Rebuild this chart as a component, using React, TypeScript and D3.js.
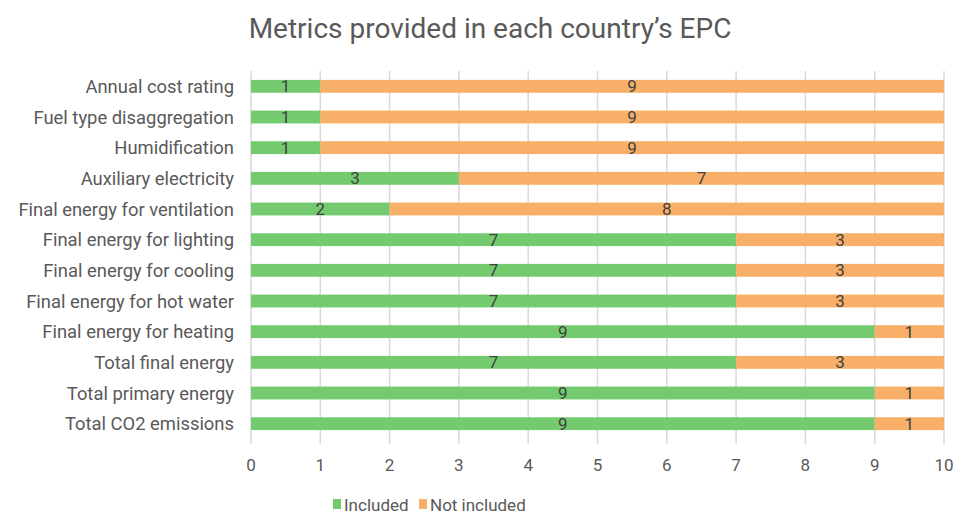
import { useMemo } from 'react';
import * as d3 from 'd3';

// Metrics provided in each country's EPC — stacked horizontal bars, top to bottom
const CATEGORIES = [
  'Annual cost rating',
  'Fuel type disaggregation',
  'Humidification',
  'Auxiliary electricity',
  'Final energy for ventilation',
  'Final energy for lighting',
  'Final energy for cooling',
  'Final energy for hot water',
  'Final energy for heating',
  'Total final energy',
  'Total primary energy',
  'Total CO2 emissions',
];
const INCLUDED     = [1, 1, 1, 3, 2, 7, 7, 7, 9, 7, 9, 9];
const NOT_INCLUDED = [9, 9, 9, 7, 8, 3, 3, 3, 1, 3, 1, 1];
const X_TICKS      = [0, 1, 2, 3, 4, 5, 6, 7, 8, 9, 10];
const SERIES       = ['Included', 'Not included'];

const W = 977;
const H = 527;
const MARGIN = { top: 71, right: 33, bottom: 88, left: 251 };

const GREEN  = '#74cb6f';
const ORANGE = '#f8b069';
const TEXT   = '#595959';
const DARK   = '#404040';
const GRID   = '#d9d9d9';
const FONT   = "'Roboto', 'Noto Sans', sans-serif";

export default function App() {
  const x = useMemo(
    () => d3.scaleLinear().domain([0, 10]).range([MARGIN.left, W - MARGIN.right]),
    [],
  );
  const y = useMemo(
    () => d3.scaleBand<string>().domain(CATEGORIES).range([MARGIN.top, H - MARGIN.bottom]).paddingInner(0.58).paddingOuter(0.29),
    [],
  );

  const rows = CATEGORIES.map((c, i) => ({ c, a: INCLUDED[i], b: NOT_INCLUDED[i] }));
  const bh = y.bandwidth();
  const plotBottom = H - MARGIN.bottom;

  return (
    <svg width={W} height={H} style={{ position: 'absolute', left: 0, top: 0, background: '#fff' }}>
      <text x={490} y={38} textAnchor="middle" fontFamily={FONT} fontSize={28} fill={TEXT}>
        Metrics provided in each country’s EPC
      </text>

      {/* vertical gridlines */}
      {X_TICKS.map((t) => (
        <line key={t} x1={x(t)} x2={x(t)} y1={MARGIN.top} y2={plotBottom + 5} stroke={GRID} strokeWidth={1.5} />
      ))}

      {/* bars */}
      {rows.map((r) => {
        const yy = y(r.c)!;
        return (
          <g key={r.c}>
            <rect x={x(0)} y={yy} width={x(r.a) - x(0)} height={bh} fill={GREEN} />
            <rect x={x(r.a)} y={yy} width={x(r.a + r.b) - x(r.a)} height={bh} fill={ORANGE} />
            <text x={(x(0) + x(r.a)) / 2} y={yy + bh / 2} dy="0.36em" textAnchor="middle" fontFamily={FONT} fontSize={17} fill={DARK}>{r.a}</text>
            <text x={(x(r.a) + x(r.a + r.b)) / 2} y={yy + bh / 2} dy="0.36em" textAnchor="middle" fontFamily={FONT} fontSize={17} fill={DARK}>{r.b}</text>
            <text x={MARGIN.left - 17} y={yy + bh / 2} dy="0.36em" textAnchor="end" fontFamily={FONT} fontSize={18.4} fill={TEXT}>{r.c}</text>
          </g>
        );
      })}

      {/* x tick labels */}
      {X_TICKS.map((t) => (
        <text key={t} x={x(t)} y={471} textAnchor="middle" fontFamily={FONT} fontSize={17} fill={TEXT}>{t}</text>
      ))}

      {/* legend */}
      {SERIES.map((s, i) => {
        const lx = i === 0 ? 333 : 419;
        return (
          <g key={s}>
            <rect x={lx} y={499} width={8} height={10} fill={i === 0 ? GREEN : ORANGE} />
            <text x={lx + 11} y={511} fontFamily={FONT} fontSize={17} fill={TEXT}>{s}</text>
          </g>
        );
      })}
    </svg>
  );
}
